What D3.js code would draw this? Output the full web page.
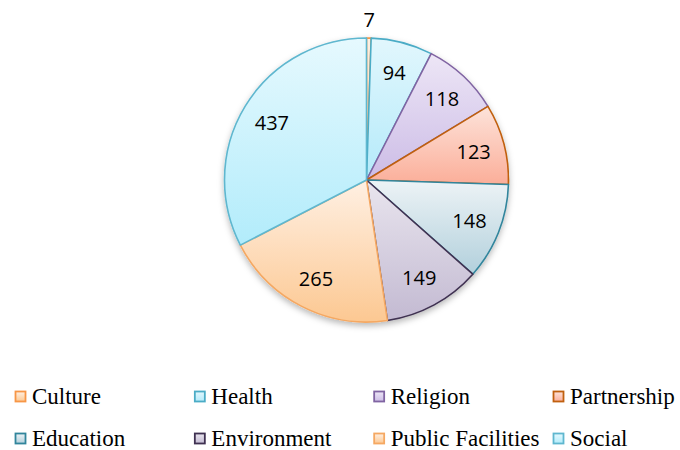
<!DOCTYPE html>
<html>
<head>
<meta charset="utf-8">
<script src="https://cdn.jsdelivr.net/npm/d3@7"></script>
<style>
  html, body { margin: 0; padding: 0; background: #ffffff; }
  svg { display: block; }
</style>
</head>
<body>
<svg id="chart" width="680" height="450"></svg>
<script>
// ---- data ----
const categories = ["Culture", "Health", "Religion", "Partnership", "Education", "Environment", "Public Facilities", "Social"];
const values = [7, 94, 118, 123, 148, 149, 265, 437];
// colours per category: [gradient top, gradient bottom, stroke]
const fillTop    = ["#fff0e3", "#e2f7fd", "#ede6f6", "#fde3da", "#edf3f6", "#e9e5ee", "#fff0e3", "#e6f9fe"];
const fillBottom = ["#fcc892", "#b4eafa", "#ccbce6", "#fbae99", "#b2d0dc", "#c3bad2", "#fcc892", "#b2ecfb"];
const strokes    = ["#f79646", "#4bacc6", "#8064a2", "#c0600f", "#31859c", "#3f3151", "#f5a862", "#5fb7cf"];

const svg = d3.select("#chart");
const cx = 366.5, cy = 180, radius = 142;

const defs = svg.append("defs");
categories.forEach((c, i) => {
  const g = defs.append("linearGradient")
    .attr("id", "grad" + i)
    .attr("x1", 0).attr("y1", 0).attr("x2", 0).attr("y2", 1);
  g.append("stop").attr("offset", "0%").attr("stop-color", fillTop[i]);
  g.append("stop").attr("offset", "100%").attr("stop-color", fillBottom[i]);
});
const shadow = defs.append("filter").attr("id", "shadow")
  .attr("x", "-20%").attr("y", "-20%").attr("width", "140%").attr("height", "140%");
shadow.append("feDropShadow")
  .attr("dx", 0).attr("dy", 3).attr("stdDeviation", 3)
  .attr("flood-color", "#000").attr("flood-opacity", 0.28);

const data = categories.map((c, i) => ({ name: c, value: values[i], idx: i }));

const pie = d3.pie().value(d => d.value).sort(null);
const arcs = pie(data);
const arc = d3.arc().innerRadius(0).outerRadius(radius);
const labelArc = d3.arc().innerRadius(radius * 0.78).outerRadius(radius * 0.78);
const outerLabelArc = d3.arc().innerRadius(radius * 1.13).outerRadius(radius * 1.13);

const g = svg.append("g").attr("transform", `translate(${cx},${cy})`);

g.append("g").attr("filter", "url(#shadow)")
  .selectAll("path")
  .data(arcs)
  .join("path")
  .attr("d", arc)
  .attr("fill", d => `url(#grad${d.data.idx})`)
  .attr("stroke", d => strokes[d.data.idx])
  .attr("stroke-width", 1.6)
  .attr("stroke-linejoin", "round");

g.append("g")
  .selectAll("text")
  .data(arcs)
  .join("text")
  .attr("transform", d => {
    const small = (d.endAngle - d.startAngle) < 0.1;
    const p = (small ? outerLabelArc : labelArc).centroid(d);
    return `translate(${p[0]},${p[1]})`;
  })
  .attr("text-anchor", "middle")
  .attr("dominant-baseline", "central")
  .attr("font-family", "'Open Sans', 'Liberation Sans', sans-serif")
  .attr("font-size", 20)
  .attr("fill", "#000")
  .text(d => d.data.value);

// ---- legend ----
const legendX = d3.scaleLinear().domain([0, 3]).range([15, 553]);
const legendY = d3.scalePoint().domain([0, 1]).range([404, 446]);
const legend = svg.append("g");
const items = legend.selectAll("g")
  .data(data)
  .join("g")
  .attr("transform", d => `translate(${legendX(d.idx % 4)},${legendY(Math.floor(d.idx / 4))})`);
items.append("rect")
  .attr("x", 0.5).attr("y", -12.5)
  .attr("width", 10).attr("height", 10)
  .attr("fill", d => `url(#grad${d.idx})`)
  .attr("stroke", d => strokes[d.idx])
  .attr("stroke-width", 1.8);
items.append("text")
  .attr("x", 17).attr("y", 0)
  .attr("font-family", "'Liberation Serif', 'Times New Roman', serif")
  .attr("font-size", 23)
  .attr("fill", "#000")
  .text(d => d.name);
</script>
</body>
</html>
